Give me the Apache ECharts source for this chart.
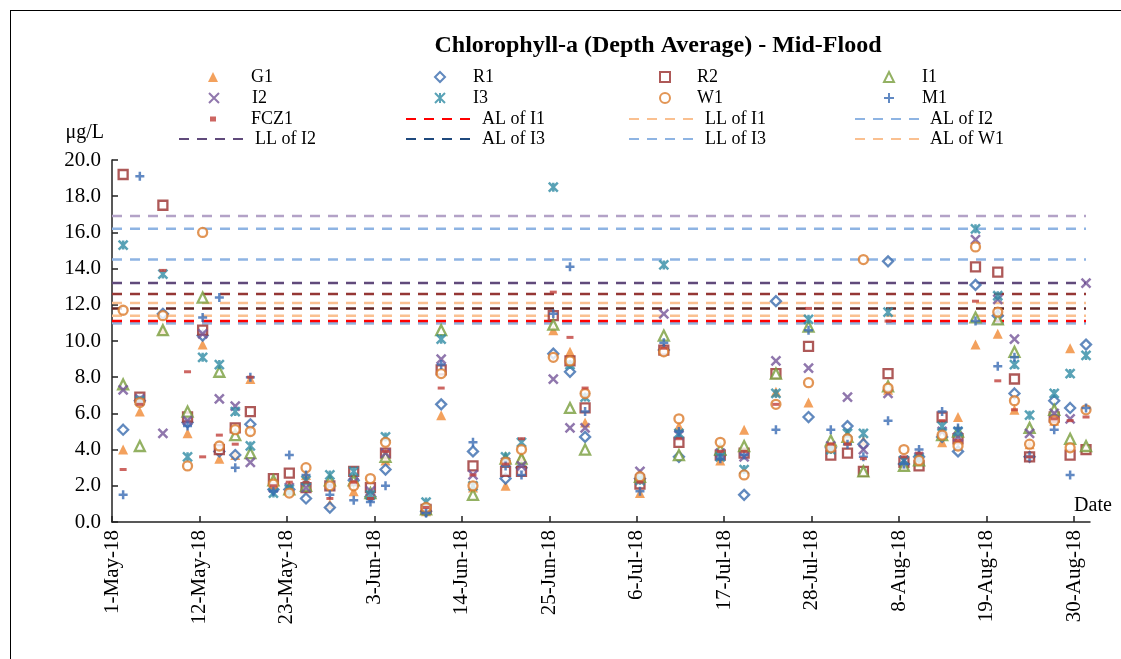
<!DOCTYPE html>
<html>
<head>
<meta charset="utf-8">
<title>Chlorophyll-a (Depth Average) - Mid-Flood</title>
<script src="https://cdn.jsdelivr.net/npm/echarts@6/dist/echarts.min.js"></script>
<style>
  html, body { margin: 0; padding: 0; background: #fff; }
  #chart { width: 1121px; height: 659px; }
  .frame {
    position: absolute; left: 10px; top: 10px;
    width: 1200px; height: 700px;
    border: 1px solid #000; pointer-events: none;
  }
</style>
</head>
<body>
<div id="chart"></div>
<div class="frame"></div>
<script>
// sampling times, in days after 1-May-18 00:00
const sampleDay = [1.4, 3.5, 6.4, 9.5, 11.4, 13.5, 15.5, 17.4, 20.3, 22.3,
  24.4, 27.4, 30.4, 32.5, 34.4, 39.5, 41.4, 45.4, 49.5, 51.5,
  55.5, 57.6, 59.5, 66.4, 69.4, 71.3, 76.5, 79.5, 83.5, 87.6,
  90.4, 92.5, 94.5, 97.6, 99.6, 101.5, 104.4, 106.4, 108.6, 111.4,
  113.5, 115.4, 118.5, 120.5, 122.5]

// chlorophyll-a, ug/L, one value per sampling time
const g1 = [4.0, 6.1, 10.6, 4.9, 9.8, 3.5, 3.7, 7.9, 2.2, 2.0,
  2.6, 1.0, 1.7, 1.5, 3.4, 0.6, 5.9, 1.9, 2.0, 3.6,
  10.6, 9.4, 5.5, 1.6, 9.6, 5.3, 3.4, 5.1, 7.2, 6.6,
  4.2, 4.5, 4.5, 7.3, 3.1, 3.3, 4.4, 5.8, 9.8, 10.4,
  6.2, 4.3, 5.6, 9.6, 4.1]
const r1 = [5.1, 6.7, 11.5, 5.5, 10.3, 3.9, 3.7, 5.4, 1.8, 1.8,
  1.3, 0.8, 2.3, 1.4, 2.9, 0.6, 6.5, 3.9, 2.4, 3.0,
  9.3, 8.3, 4.7, 2.4, 9.5, 3.6, 3.7, 1.5, 12.2, 5.8,
  4.1, 5.3, 4.3, 14.4, 3.2, 3.6, 4.7, 3.9, 13.1, 11.4,
  7.1, 3.6, 6.7, 6.3, 9.8]
const r2 = [19.2, 6.9, 17.5, 5.8, 10.6, 4.0, 5.2, 6.1, 2.4, 2.7,
  1.9, 2.0, 2.8, 1.9, 3.8, 0.7, 8.4, 3.1, 2.8, 2.8,
  11.4, 8.9, 6.3, 2.1, 9.5, 4.4, 3.7, 3.8, 8.2, 9.7,
  3.7, 3.8, 2.8, 8.2, 3.3, 3.1, 5.8, 4.6, 14.1, 13.8,
  7.9, 3.6, 5.8, 3.7, 4.0]
const i1 = [7.6, 4.2, 10.6, 6.1, 12.4, 8.3, 4.8, 3.8, 2.3, 1.8,
  2.0, 2.3, 2.3, 1.6, 3.6, 0.7, 10.6, 1.5, 3.5, 3.5,
  10.9, 6.3, 4.0, 2.5, 10.3, 3.7, 4.0, 4.2, 8.2, 10.8,
  4.5, 4.7, 2.8, 7.5, 3.1, 3.4, 4.8, 5.0, 11.3, 11.2,
  9.4, 5.2, 6.2, 4.6, 4.2]
const i2 = [7.3, 6.8, 4.9, 5.6, 10.4, 6.8, 6.4, 3.3, 1.9, 1.9,
  1.9, 2.0, 2.2, 1.7, 3.8, 0.7, 9.0, 2.6, 3.3, 3.1,
  7.9, 5.2, 5.2, 2.8, 11.5, 4.8, 3.8, 3.6, 8.9, 8.5,
  4.2, 6.9, 4.0, 7.1, 3.4, 3.6, 5.0, 4.7, 15.6, 12.3,
  10.1, 4.9, 6.0, 5.7, 13.2]
const i3 = [15.3, 6.7, 13.7, 3.6, 9.1, 8.7, 6.1, 4.2, 1.6, 1.8,
  2.3, 2.6, 2.8, 1.5, 4.7, 1.1, 10.1, 2.0, 3.6, 4.4,
  18.5, 8.7, 6.9, 2.3, 14.2, 4.9, 3.6, 2.9, 7.1, 11.2,
  4.0, 4.9, 4.9, 11.6, 3.4, 3.5, 5.3, 5.0, 16.2, 12.5,
  8.7, 5.9, 7.1, 8.2, 9.2]
const w1 = [11.7, 6.6, 11.4, 3.1, 16.0, 4.2, 5.1, 5.0, 2.1, 1.6,
  3.0, 2.0, 2.0, 2.4, 4.4, 0.8, 8.2, 2.0, 3.3, 4.0,
  9.1, 8.9, 7.1, 2.5, 9.4, 5.7, 4.4, 2.6, 6.5, 7.7,
  4.1, 4.6, 14.5, 7.4, 4.0, 3.4, 4.8, 4.2, 15.2, 11.6,
  6.7, 4.3, 5.6, 4.1, 6.2]
const m1 = [1.5, 19.1, null, 5.3, 11.3, 12.4, 3.0, 8.0, 1.7, 3.7,
  2.6, 1.5, 1.2, 1.1, 2.0, 0.5, 8.7, 4.4, 3.1, 2.6,
  11.5, 14.1, 6.1, 1.7, 9.9, 5.0, 3.5, 3.7, 5.1, 10.6,
  5.1, 4.3, 3.6, 5.6, 3.2, 4.0, 6.1, 5.2, 11.1, 8.6,
  9.1, 3.6, 5.1, 2.6, 6.3]
const fcz1 = [2.9, 6.5, 13.9, 8.3, 3.6, 4.8, 4.3, 8.0, 2.0, 2.2,
  2.2, 1.3, 2.2, 1.3, 3.9, 0.8, 7.4, 2.6, 3.2, 4.6,
  12.7, 10.2, 7.4, 2.2, 9.6, 4.6, 3.9, 3.9, 6.5, 11.8,
  4.3, 4.3, 3.5, 11.1, 3.6, 3.8, 5.6, 4.5, 12.2, 7.8,
  6.2, 3.6, 5.7, 5.6, 5.8]

// action / limit levels, ug/L (first four have no legend entry)
const levelNames = ['Level a', 'Level b', 'Level c', 'Level d',
  'AL of I3', 'AL of I2', 'AL of I1', 'AL of W1', 'LL of I1', 'LL of I2', 'LL of I3']
const levelValues = [16.9, 16.2, 12.6, 11.8, 11.0, 11.0, 11.1, 11.4, 12.1, 13.2, 14.5]

// axis ticks, days after 1-May-18
const tickDays = [0, 11, 22, 33, 44, 55, 66, 77, 88, 99, 110, 121]
const yTicks = [0, 2, 4, 6, 8, 10, 12, 14, 16, 18, 20]

const MONTHS = ['Jan', 'Feb', 'Mar', 'Apr', 'May', 'Jun', 'Jul', 'Aug', 'Sep', 'Oct', 'Nov', 'Dec']
const fmtDay = v => {
  const d = new Date(2018, 4, 1 + Math.round(v))
  return d.getDate() + '-' + MONTHS[d.getMonth()] + '-18'
}

const FONT = '"Liberation Serif", "Times New Roman", serif'

// hollow markers are drawn white-filled with a thick outline, like the sheet
const markStyle = {
  G1: { symbol: 'triangle', size: 10, color: '#F08A35' },
  R1: { symbol: 'diamond', size: 10, color: '#3A6BAE', hollow: true },
  R2: { symbol: 'rect', size: 9, color: '#9A302E', hollow: true },
  I1: { symbol: 'triangle', size: 10, color: '#789E3C', hollow: true },
  I2: { symbol: 'path://M0,0L10,10M10,0L0,10', size: 9, color: '#745599', stroke: true },
  I3: { symbol: 'path://M0,0L10,10M10,0L0,10M5,0L5,10', size: 9, color: '#2F8BA4', stroke: true },
  W1: { symbol: 'circle', size: 9, color: '#DB7A2A', hollow: true },
  M1: { symbol: 'path://M5,0L5,10M0,5L10,5', size: 9, color: '#3A6CB4', stroke: true },
  FCZ1: { symbol: 'rect', size: [7, 3], color: '#C0403B' }
}
const stationData = { G1: g1, R1: r1, R2: r2, I1: i1, I2: i2, I3: i3, W1: w1, M1: m1, FCZ1: fcz1 }

const levelColor = {
  'Level a': '#B3A2C7', 'Level b': '#8EB4E3', 'Level c': '#953735', 'Level d': '#632523',
  'AL of I3': '#1F497D', 'AL of I2': '#8EB4E3', 'AL of I1': '#FF0000', 'AL of W1': '#FAC090',
  'LL of I1': '#FAC090', 'LL of I2': '#604A7B', 'LL of I3': '#8EB4E3'
}

const lastDay = sampleDay[sampleDay.length - 1]

const levelSeries = levelNames.map((name, k) => ({
  name,
  type: 'line',
  symbol: 'none',
  silent: true,
  z: 2,
  color: levelColor[name],
  itemStyle: { opacity: 0 },
  lineStyle: { color: levelColor[name], width: 2.5, type: [10, 8], cap: 'butt' },
  data: [[0, levelValues[k]], [lastDay, levelValues[k]]]
}))

const stationSeries = Object.keys(stationData).map(name => {
  const s = markStyle[name]
  let itemStyle = { color: s.color }
  if (s.stroke) itemStyle = { color: s.color, borderColor: s.color, borderWidth: 2.5 }
  if (s.hollow) itemStyle = { color: '#fff', borderColor: s.color, borderWidth: 2.3 }
  return {
    name,
    type: 'scatter',
    z: 3,
    symbol: s.symbol,
    symbolSize: s.size,
    itemStyle,
    data: sampleDay
      .map((d, k) => [d, stationData[name][k]])
      .filter(p => p[1] !== null)
  }
})

// legend layout: 4 rows x 4 columns, like the original sheet
const legendRows = [
  ['G1', 'R1', 'R2', 'I1'],
  ['I2', 'I3', 'W1', 'M1'],
  ['FCZ1', 'AL of I1', 'LL of I1', 'AL of I2'],
  ['LL of I2', 'AL of I3', 'LL of I3', 'AL of W1']
]
const rowY = [76, 97, 118, 138]
const markCenterX = [213, 439, 664, 888]
const markTextX = [251, 472, 696, 921]
const lineStartX = [178, 405, 628, 854]
const lineTextX = [254, 481, 704, 929]

const legends = []
legendRows.forEach((row, r) => {
  row.forEach((name, c) => {
    const isLine = levelNames.includes(name)
    let w, h, left, textPad
    if (isLine) {
      w = 64; h = 9; left = lineStartX[c]
      textPad = lineTextX[c] - (left + w + 5)
    } else {
      if (name === 'FCZ1') { w = 6; h = 5 } else { w = 10; h = 10 }
      left = markCenterX[c] - w / 2
      textPad = markTextX[c] - (left + w + 5)
    }
    legends.push({
      orient: 'horizontal',
      left,
      top: rowY[r] - 8,
      padding: 0,
      itemWidth: w,
      itemHeight: h,
      selectedMode: false,
      data: [name],
      textStyle: { fontFamily: FONT, fontSize: 18, color: '#000', padding: [0, 0, 0, textPad] }
    })
  })
})

const chart = echarts.init(document.getElementById('chart'))
chart.setOption({
  backgroundColor: '#fff',
  animation: false,
  textStyle: { fontFamily: FONT, color: '#000' },
  title: {
    text: 'Chlorophyll-a (Depth Average) - Mid-Flood',
    left: 653,
    top: 29,
    textAlign: 'center',
    textStyle: { fontFamily: FONT, fontSize: 24, fontWeight: 'bold', color: '#000' }
  },
  legend: legends,
  grid: { left: 112, right: 31, top: 160, bottom: 137 },
  xAxis: {
    type: 'value',
    min: 0,
    max: 123,
    name: 'Date',
    nameLocation: 'end',
    nameGap: 3,
    nameTextStyle: { fontFamily: FONT, fontSize: 20, color: '#000', align: 'center', verticalAlign: 'bottom', padding: [0, 0, 6, 0] },
    splitLine: { show: false },
    axisLine: { lineStyle: { color: '#222', width: 1.5 } },
    axisTick: { inside: true, length: 6, customValues: tickDays, lineStyle: { color: '#222', width: 1.5 } },
    axisLabel: {
      customValues: tickDays,
      rotate: 90,
      margin: 8,
      fontFamily: FONT,
      fontSize: 21,
      color: '#000',
      formatter: fmtDay
    }
  },
  yAxis: {
    type: 'value',
    min: 0,
    max: 20,
    name: 'μg/L',
    nameLocation: 'end',
    nameGap: 17,
    nameTextStyle: { fontFamily: FONT, fontSize: 20, color: '#000', align: 'right', padding: [0, 8, 0, 0] },
    splitLine: { show: false },
    axisLine: { show: true, lineStyle: { color: '#222', width: 1.5 } },
    axisTick: { show: true, inside: true, length: 6, customValues: yTicks, lineStyle: { color: '#222', width: 1.5 } },
    axisLabel: {
      customValues: yTicks,
      margin: 11,
      fontFamily: FONT,
      fontSize: 21,
      color: '#000',
      formatter: v => v.toFixed(1)
    }
  },
  series: [...levelSeries, ...stationSeries]
})
</script>
</body>
</html>
